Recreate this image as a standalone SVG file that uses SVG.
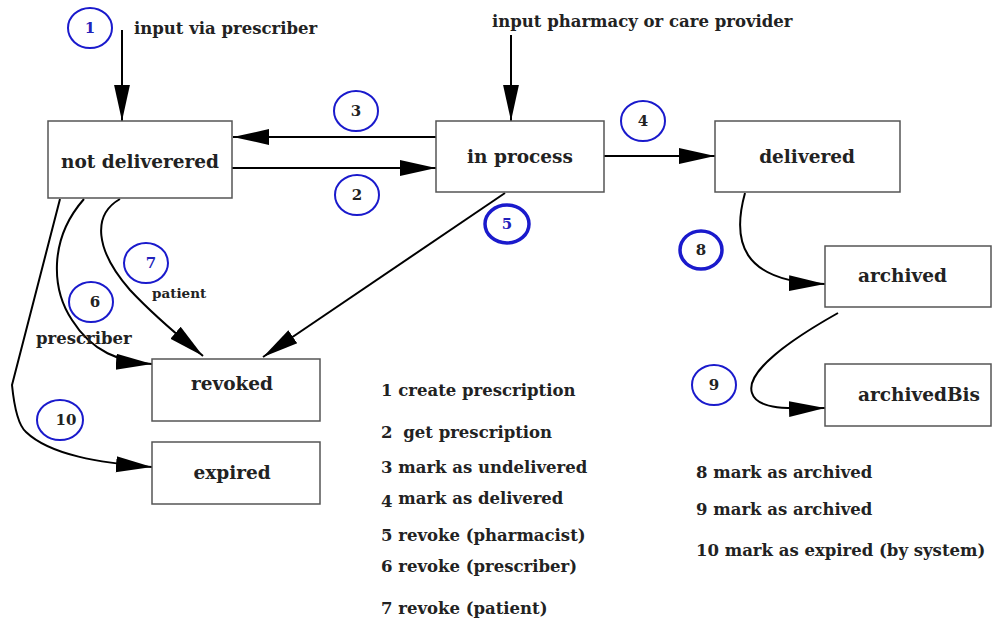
<svg xmlns="http://www.w3.org/2000/svg" width="992" height="621" viewBox="0 0 992 621">
<style>
.box{fill:#fff;stroke:#555;stroke-width:1.5}
.nt{font-family:"DejaVu Serif","Liberation Serif",serif;font-weight:bold;font-size:18.5px;fill:#222}
.lg{font-family:"DejaVu Serif","Liberation Serif",serif;font-weight:bold;font-size:16.5px;fill:#222}
.sm{font-family:"DejaVu Serif","Liberation Serif",serif;font-weight:bold;font-size:13.5px;fill:#222}
.c{fill:none;stroke:#1a1acc;stroke-width:2}
.ck{fill:none;stroke:#1a1acc;stroke-width:3.5}
.cn{font-family:"DejaVu Serif","Liberation Serif",serif;font-weight:bold;font-size:15px;text-anchor:middle;fill:#222}
.cb{fill:#2222bb}
.e{fill:none;stroke:#000;stroke-width:2}
</style>
<defs>
<marker id="ahb" viewBox="0 0 10 10" refX="10" refY="5" markerWidth="36" markerHeight="36" markerUnits="userSpaceOnUse" orient="auto">
<path d="M0,2.8 L10,5 L0,7.2 z" fill="#000"/>
</marker>
</defs>
<rect width="992" height="621" fill="#fff"/>
<g id="connectors">
<path class="e" d="M122,30 L122,121" marker-end="url(#ahb)"/>
<path class="e" d="M511,35 L511,121" marker-end="url(#ahb)"/>
<path class="e" d="M436,137 L233,137" marker-end="url(#ahb)"/>
<path class="e" d="M232,168 L436,168" marker-end="url(#ahb)"/>
<path class="e" d="M604,156 L715,156" marker-end="url(#ahb)"/>
<path class="e" d="M505,193 L263,357" marker-end="url(#ahb)"/>
<path class="e" d="M745,193 C732,240 740,282 825,284" marker-end="url(#ahb)"/>
<path class="e" d="M838,313 C790,340 745,372 752,393 C757,410 790,409 825,408" marker-end="url(#ahb)"/>
<path class="e" d="M120,199 C92,215 95,250 130,290 C160,322 190,345 203,356" marker-end="url(#ahb)"/>
<path class="e" d="M84,199 C48,240 52,290 72,320 C92,352 120,362 152,364" marker-end="url(#ahb)"/>
<path class="e" d="M60,199 L12,385 C14,405 18,425 26,432 C50,455 100,463 152,467" marker-end="url(#ahb)"/>
</g>
<g id="labels">
<text class="lg" x="134" y="34">input via prescriber</text>
<text class="lg" x="492" y="27">input pharmacy or care provider</text>
<text class="sm" x="152" y="298">patient</text>
<text class="lg" x="36" y="344">prescriber</text>
</g>
<g id="c1"><ellipse class="c" cx="90" cy="28" rx="22" ry="20"/><text class="cn cb" x="90" y="33">1</text></g>
<g id="c3"><ellipse class="c" cx="356" cy="111" rx="22" ry="20"/><text class="cn" x="356" y="116">3</text></g>
<g id="c2"><ellipse class="c" cx="357" cy="195" rx="22" ry="20"/><text class="cn" x="357" y="200">2</text></g>
<g id="c4"><ellipse class="c" cx="643" cy="121" rx="22" ry="20"/><text class="cn" x="643" y="126">4</text></g>
<g id="c5"><ellipse class="ck" cx="507" cy="224" rx="22" ry="19"/><text class="cn cb" x="507" y="229">5</text></g>
<g id="c8"><ellipse class="ck" cx="701" cy="250" rx="21" ry="19"/><text class="cn" x="701" y="255">8</text></g>
<g id="c9"><ellipse class="c" cx="714" cy="385" rx="22" ry="20"/><text class="cn" x="714" y="390">9</text></g>
<g id="c7"><ellipse class="c" cx="146" cy="263" rx="22" ry="20"/><text class="cn cb" x="151" y="268">7</text></g>
<g id="c6"><ellipse class="c" cx="91" cy="302" rx="22" ry="20"/><text class="cn" x="95" y="307">6</text></g>
<g id="c10"><ellipse class="c" cx="60" cy="420" rx="23" ry="20"/><text class="cn" x="66" y="425">10</text></g>
<g id="n-notdelivered"><rect class="box" x="48" y="121" width="184" height="77"/><text class="nt" x="140" y="168" text-anchor="middle">not deliverered</text></g>
<g id="n-inprocess"><rect class="box" x="436" y="121" width="168" height="71"/><text class="nt" x="520" y="163" text-anchor="middle">in process</text></g>
<g id="n-delivered"><rect class="box" x="715" y="121" width="185" height="71"/><text class="nt" x="807" y="163" text-anchor="middle">delivered</text></g>
<g id="n-archived"><rect class="box" x="825" y="246" width="166" height="61"/><text class="nt" x="858" y="282">archived</text></g>
<g id="n-archivedbis"><rect class="box" x="825" y="364" width="166" height="62"/><text class="nt" x="858" y="401">archivedBis</text></g>
<g id="n-revoked"><rect class="box" x="152" y="359" width="168" height="62"/><text class="nt" x="232" y="390" text-anchor="middle">revoked</text></g>
<g id="n-expired"><rect class="box" x="152" y="442" width="168" height="62"/><text class="nt" x="232" y="479" text-anchor="middle">expired</text></g>
<g id="legend">
<text class="lg" x="381" y="396">1 create prescription</text>
<text class="lg" x="381" y="438">2 <tspan dx="5">get prescription</tspan></text>
<text class="lg" x="381" y="473">3 mark as undelivered</text>
<text class="lg" x="381" y="504"><tspan dy="3">4</tspan><tspan dy="-3"> mark as delivered</tspan></text>
<text class="lg" x="381" y="541">5 revoke (pharmacist)</text>
<text class="lg" x="381" y="572">6 revoke (prescriber)</text>
<text class="lg" x="381" y="614">7 revoke (patient)</text>
<text class="lg" x="696" y="478">8 mark as archived</text>
<text class="lg" x="696" y="515">9 mark as archived</text>
<text class="lg" x="696" y="556">10 mark as expired (by system)</text>
</g>
</svg>
